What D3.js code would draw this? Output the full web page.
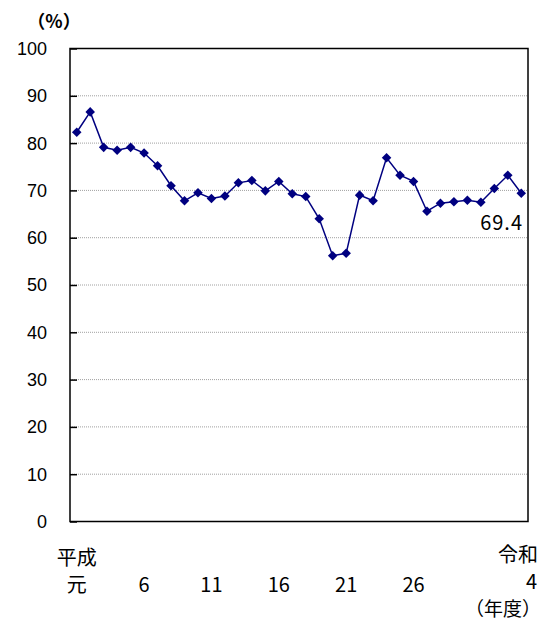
<!DOCTYPE html>
<html>
<head>
<meta charset="utf-8">
<script src="https://d3js.org/d3.v7.min.js"></script>
<style>
  body { margin: 0; background: #fff; }
  .jp { font-family: "Noto Sans CJK JP", sans-serif; }
  .ytick { font-family: "Liberation Sans", Arial, sans-serif; font-size: 18px; }
</style>
</head>
<body>
<div id="chart"></div>
<script>
// fiscal years: 平成元..平成31, 令和2..令和4
var years = [];
for (var i = 1; i <= 31; i++) years.push("H" + i);
years.push("R2", "R3", "R4");

var values = [82.3, 86.6, 79.1, 78.5, 79.1, 77.9, 75.2, 71.0, 67.8, 69.5,
              68.3, 68.8, 71.6, 72.1, 69.9, 71.9, 69.3, 68.7, 64.0, 56.2,
              56.7, 69.0, 67.8, 76.9, 73.2, 71.9, 65.6, 67.3, 67.6, 67.9,
              67.5, 70.4, 73.2, 69.4];

var tickKeys = ["H1", "H6", "H11", "H16", "H21", "H26", "R4"];
var tickLabels = ["元", "6", "11", "16", "21", "26", "4"];
var eraLabels = [{key: "H1", text: "平成"}, {key: "R4", text: "令和"}];
var yTicks = [0, 10, 20, 30, 40, 50, 60, 70, 80, 90, 100];

var W = 546, H = 621;
var pLeft = 70, pRight = 528, pTop = 48.5, pBottom = 521.5;

var svg = d3.select("#chart").append("svg")
  .attr("width", W)
  .attr("height", H);

var x = d3.scalePoint()
  .domain(years)
  .range([pLeft, pRight])
  .padding(0.5);

var y = d3.scaleLinear()
  .domain([0, 100])
  .range([pBottom, pTop]);

// gridlines
svg.selectAll(".grid")
  .data(yTicks.filter(function(d) { return d > 0 && d < 100; }))
  .enter().append("line")
  .attr("x1", pLeft).attr("x2", pRight)
  .attr("y1", function(d) { return y(d); })
  .attr("y2", function(d) { return y(d); })
  .attr("stroke", "#a0a0a0")
  .attr("stroke-width", 1)
  .attr("stroke-dasharray", "1,1");

// frame
svg.append("rect")
  .attr("x", pLeft).attr("y", pTop)
  .attr("width", pRight - pLeft).attr("height", pBottom - pTop)
  .attr("fill", "none")
  .attr("stroke", "#000")
  .attr("stroke-width", 1.5);

// y axis
var yAxis = svg.append("g")
  .attr("transform", "translate(" + pLeft + ",0)")
  .call(d3.axisRight(y).tickValues(yTicks).tickSize(7).tickFormat(""));
yAxis.select(".domain").remove();
yAxis.selectAll("line").attr("stroke", "#000").attr("stroke-width", 1.5);

svg.selectAll(".ytick")
  .data(yTicks)
  .enter().append("text")
  .attr("class", "ytick")
  .attr("x", 47)
  .attr("y", function(d) { return y(d); })
  .attr("dy", "0.36em")
  .attr("text-anchor", "end")
  .text(function(d) { return d; });

svg.append("text")
  .attr("class", "jp")
  .attr("x", 54).attr("y", 28)
  .attr("text-anchor", "middle")
  .attr("font-size", 18)
  .attr("font-weight", "bold")
  .text("（%）");

// x labels
svg.selectAll(".xtick")
  .data(tickKeys)
  .enter().append("text")
  .attr("class", "jp")
  .attr("x", function(d) { return d === "R4" ? 537 : x(d); })
  .attr("y", function(d) { return d === "R4" ? 589 : 592; })
  .attr("text-anchor", function(d) { return d === "R4" ? "end" : "middle"; })
  .attr("font-size", 20)
  .text(function(d, i) { return tickLabels[i]; });

svg.selectAll(".era")
  .data(eraLabels)
  .enter().append("text")
  .attr("class", "jp")
  .attr("x", function(d) { return d.key === "R4" ? 538 : x(d.key); })
  .attr("y", function(d) { return d.key === "R4" ? 562 : 565; })
  .attr("text-anchor", function(d) { return d.key === "R4" ? "end" : "middle"; })
  .attr("font-size", 20)
  .text(function(d) { return d.text; });

svg.append("text")
  .attr("class", "jp")
  .attr("x", 541).attr("y", 616)
  .attr("text-anchor", "end")
  .attr("font-size", 19)
  .text("（年度）");

// line
var line = d3.line()
  .x(function(d, i) { return x(years[i]); })
  .y(function(d) { return y(d); });

svg.append("path")
  .datum(values)
  .attr("d", line)
  .attr("fill", "none")
  .attr("stroke", "#000080")
  .attr("stroke-width", 1.5);

svg.selectAll(".pt")
  .data(values)
  .enter().append("path")
  .attr("d", d3.symbol().type(d3.symbolDiamond2).size(58))
  .attr("transform", function(d, i) { return "translate(" + x(years[i]) + "," + y(d) + ")"; })
  .attr("fill", "#000080");

// last value label
svg.append("text")
  .attr("class", "jp")
  .attr("x", 523)
  .attr("y", y(values[values.length - 1]) + 37)
  .attr("text-anchor", "end")
  .attr("font-size", 20)
  .attr("letter-spacing", 1)
  .text(values[values.length - 1].toFixed(1));
</script>
</body>
</html>
